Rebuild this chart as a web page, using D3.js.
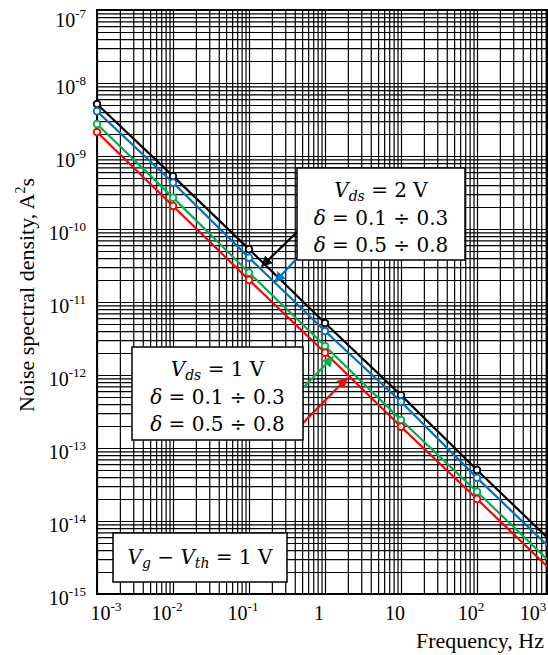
<!DOCTYPE html>
<html><head><meta charset="utf-8">
<script src="https://cdn.jsdelivr.net/npm/d3@7"></script>
<style>
html,body{margin:0;padding:0;background:#fff;}
svg{display:block;}
</style></head>
<body>
<svg id="chart" width="548" height="655"></svg>
<script>
// ---------- data ----------
const frequencies = [1e-3, 1e-2, 1e-1, 1, 10, 100, 1000];
const vds2_low  = [5.15e-9, 5.3e-10, 5.3e-11, 5.15e-12, 5.3e-13, 5.0e-14, 5.0e-15]; // black
const vds2_high = [4.1e-9, 4.3e-10, 4.05e-11, 4.0e-12, 4.3e-13, 3.9e-14, 3.9e-15];  // blue
const vds1_low  = [2.74e-9, 2.69e-10, 2.52e-11, 2.49e-12, 2.42e-13, 2.52e-14, 2.5e-15]; // green
const vds1_high = [2.13e-9, 2.07e-10, 2.0e-11, 2.02e-12, 1.96e-13, 2.0e-14, 2.0e-15]; // red
const xTickValues = [1e-3, 1e-2, 1e-1, 1, 10, 100, 1000];
const xTickLabels = [["10","-3"],["10","-2"],["10","-1"],["1",""],["10",""],["10","2"],["10","3"]];
const yTickValues = [1e-15,1e-14,1e-13,1e-12,1e-11,1e-10,1e-9,1e-8,1e-7];
const yTickExps = ["-15","-14","-13","-12","-11","-10","-9","-8","-7"];
// arrows: [from f, from S, to f, to S, color]
const arrowsData = [
  [0.428, 9.1e-11, 0.148, 3.1e-11, "#000000"],
  [0.469, 4.4e-11, 0.22, 1.88e-11, "#0070C0"],
  [0.415, 5.3e-13, 1.27, 1.77e-12, "#00B050"],
  [0.442, 1.88e-13, 1.95, 9.1e-13, "#FF0000"]
];

const series = [
  {vals: vds2_low, color: "#000000"},
  {vals: vds2_high, color: "#0070C0"},
  {vals: vds1_low, color: "#00B050"},
  {vals: vds1_high, color: "#FF0000"}
];

// ---------- layout ----------
const svg = d3.select("#chart");
const L = 97, R = 547, T = 10, B = 594;
const x = d3.scaleLog().domain([1e-3, 1e3]).range([L, L + 6*76]);
const y = d3.scaleLog().domain([1e-15, 1e-7]).range([B, T]);

svg.append("defs").append("clipPath").attr("id","plotclip")
  .append("rect").attr("x",L).attr("y",T).attr("width",R-L).attr("height",B-T);

// grid values
const xGrid = [];
for (let k=-3;k<=2;k++) for (let m=1;m<=9;m++) xGrid.push(m*Math.pow(10,k));
xGrid.push(1e3);
const yGrid = [];
for (let k=-15;k<=-8;k++) for (let m=1;m<=9;m++) yGrid.push(m*Math.pow(10,k));
yGrid.push(1e-7);

const gridG = svg.append("g").attr("clip-path","url(#plotclip)");
gridG.append("g").attr("transform",`translate(0,${B})`)
  .call(d3.axisBottom(x).tickValues(xGrid).tickSize(-(B-T)).tickFormat(""))
  .call(g=>g.select(".domain").remove())
  .call(g=>g.selectAll("line").attr("stroke","#000").attr("stroke-width",1.2));
gridG.append("g").attr("transform",`translate(${L},0)`)
  .call(d3.axisLeft(y).tickValues(yGrid).tickSize(-(R-L)).tickFormat(""))
  .call(g=>g.select(".domain").remove())
  .call(g=>g.selectAll("line").attr("stroke","#000").attr("stroke-width",1.2));

// frame
svg.append("rect").attr("x",L).attr("y",T).attr("width",R-L).attr("height",B-T)
  .attr("fill","none").attr("stroke","#000").attr("stroke-width",2);

// ---------- series ----------
const line = d3.line().x((d,i)=>x(frequencies[i])).y(d=>y(d));
const lineG = svg.append("g").attr("clip-path","url(#plotclip)");
series.forEach(s=>{
  lineG.append("path").datum(s.vals).attr("d",line)
    .attr("fill","none").attr("stroke",s.color).attr("stroke-width",2.2);
});
series.forEach(s=>{
  svg.append("g").selectAll("circle")
    .data(s.vals.map((v,i)=>({f:frequencies[i], v})).filter(d=>x(d.f) <= R))
    .join("circle")
    .attr("cx",d=>x(d.f)).attr("cy",d=>y(d.v)).attr("r",3.3)
    .attr("fill","#fff").attr("stroke",s.color).attr("stroke-width",1.8);
});

// ---------- tick labels ----------
const serif = "'Liberation Serif','Times New Roman',Times,serif";
const xl = svg.append("g").attr("font-family",serif).attr("fill","#000");
xTickValues.forEach((v,i)=>{
  const lab = xTickLabels[i];
  let cx = Math.min(Math.max(x(v) - 6, L + 9), R - 14);
  const t = xl.append("text").attr("x",cx).attr("y",620).attr("text-anchor","middle").attr("font-size",20);
  t.append("tspan").text(lab[0]);
  if (lab[1]) t.append("tspan").attr("dy",-9).attr("font-size",13).text(lab[1]);
});
const yl = svg.append("g").attr("font-family",serif).attr("fill","#000");
yTickValues.forEach((v,i)=>{
  const by = Math.max(y(v) + 11, 27);
  const t = yl.append("text").attr("x",86).attr("y",by).attr("text-anchor","end").attr("font-size",20);
  t.append("tspan").text("10");
  t.append("tspan").attr("dy",-9).attr("font-size",13).text(yTickExps[i]);
});

// axis titles
const yt = svg.append("text").attr("transform","translate(34,295) rotate(-90)")
  .attr("text-anchor","middle").attr("font-family",serif)
  .attr("font-size",22).attr("fill","#000");
yt.append("tspan").text("Noise spectral density, A");
yt.append("tspan").attr("dy",-9).attr("font-size",14).text("2");
yt.append("tspan").attr("dy",9).text("s");
svg.append("text").attr("x",544).attr("y",648).attr("text-anchor","end")
  .attr("font-family",serif).attr("font-size",22)
  .attr("fill","#000").text("Frequency, Hz");

// ---------- arrows ----------
const defs = svg.select("defs");
arrowsData.forEach((a,i)=>{
  defs.append("marker").attr("id","ah"+i).attr("viewBox","0 0 10 10").attr("refX",9).attr("refY",5)
    .attr("markerWidth",5).attr("markerHeight",5).attr("orient","auto-start-reverse")
    .append("path").attr("d","M0,0 L10,5 L0,10 z").attr("fill",a[4]);
  svg.append("line").attr("x1",x(a[0])).attr("y1",y(a[1])).attr("x2",x(a[2])).attr("y2",y(a[3]))
    .attr("stroke",a[4]).attr("stroke-width",2.2).attr("marker-end",`url(#ah${i})`);
});

// ---------- annotation boxes ----------
const mathFont = "'DejaVu Serif',serif";
function mathBox(x0,y0,w,h,lines){
  const g = svg.append("g");
  g.append("rect").attr("x",x0).attr("y",y0).attr("width",w).attr("height",h)
    .attr("fill","#fff").attr("stroke","#000").attr("stroke-width",1.5);
  lines.forEach(l=>{
    const t = g.append("text").attr("x",x0+w/2).attr("y",l.y).attr("text-anchor","middle")
      .attr("font-family",mathFont).attr("font-size",20).attr("fill","#000");
    l.parts.forEach(p=>{
      const ts = t.append("tspan").text(p.t);
      if (p.i) ts.attr("font-style","italic");
      if (p.dy) ts.attr("dy",p.dy);
      if (p.s) ts.attr("font-size",p.s);
    });
  });
}
mathBox(297,168,168,92,[
  {y:197, parts:[{t:"V",i:1},{t:"ds",i:1,dy:4,s:14},{t:" = 2 V",dy:-4}]},
  {y:225, parts:[{t:"δ",i:1},{t:" = 0.1 ÷ 0.3"}]},
  {y:252, parts:[{t:"δ",i:1},{t:" = 0.5 ÷ 0.8"}]}
]);
mathBox(132,347,171,93,[
  {y:376, parts:[{t:"V",i:1},{t:"ds",i:1,dy:4,s:14},{t:" = 1 V",dy:-4}]},
  {y:404, parts:[{t:"δ",i:1},{t:" = 0.1 ÷ 0.3"}]},
  {y:431, parts:[{t:"δ",i:1},{t:" = 0.5 ÷ 0.8"}]}
]);
mathBox(113,533,174,49,[
  {y:564, parts:[{t:"V",i:1},{t:"g",i:1,dy:4,s:14},{t:" − ",dy:-4},{t:"V",i:1},{t:"th",i:1,dy:4,s:14},{t:" = 1 V",dy:-4}]}
]);
</script>
</body></html>
